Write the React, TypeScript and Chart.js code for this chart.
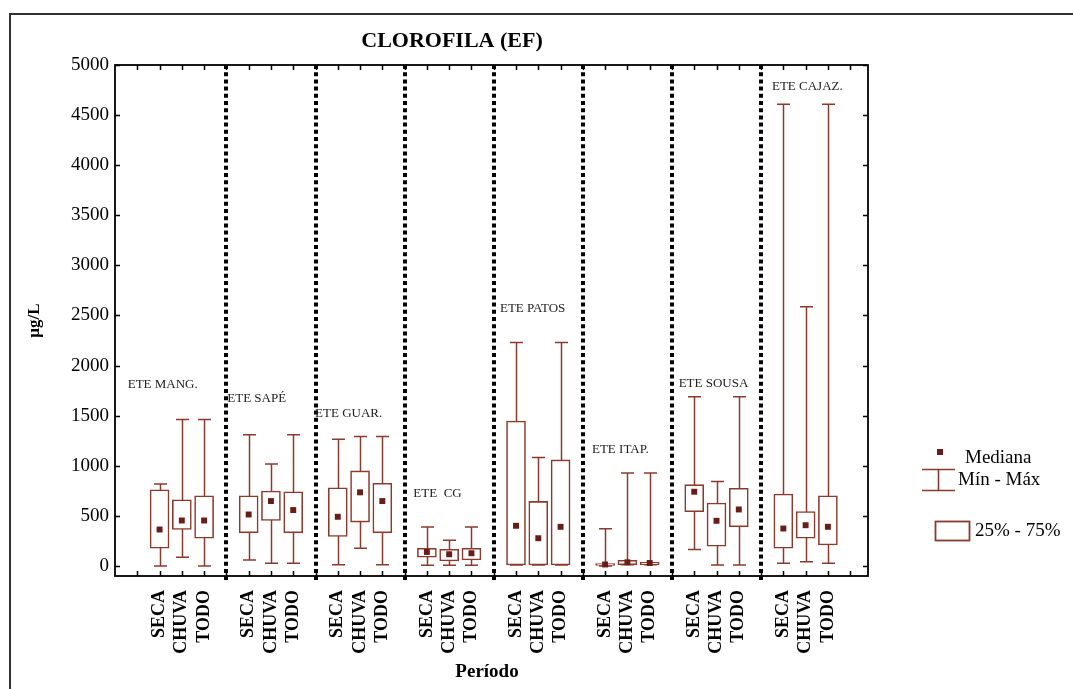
import React, { useEffect, useRef } from 'react';
import { Chart, registerables } from 'chart.js';

Chart.register(...registerables);

// Stations (groups) and sampling periods
const stations = ['ETE MANG.', 'ETE SAPÉ', 'ETE GUAR.', 'ETE  CG', 'ETE PATOS', 'ETE ITAP.', 'ETE SOUSA', 'ETE CAJAZ.'];
const periods = ['SECA', 'CHUVA', 'TODO'];

// Box statistics, station by station, in the order SECA, CHUVA, TODO (µg/L)
const minValues = [0, 87, 0, 60, 27, 27, 13, 177, 13, 7, 7, 7, 10, 10, 10, 0, 13, 13, 164, 10, 10, 27, 43, 27];
const q1Values = [177, 364, 277, 331, 454, 331, 294, 438, 331, 87, 50, 60, 10, 10, 10, 5, 13, 13, 541, 197, 391, 177, 277, 210];
const medianValues = [364, 454, 454, 514, 648, 558, 491, 735, 648, 140, 117, 127, 401, 277, 391, 15, 37, 30, 741, 451, 564, 374, 407, 391];
const q3Values = [761, 661, 701, 701, 748, 741, 781, 949, 825, 177, 167, 177, 1446, 644, 1059, 25, 57, 40, 812, 628, 775, 718, 544, 701];
const maxValues = [818, 1463, 1463, 1309, 1019, 1309, 1266, 1293, 1293, 388, 257, 388, 2231, 1082, 2231, 371, 929, 929, 1690, 842, 1690, 4609, 2588, 4609];

// Y axis tick labels
const yTicks = [0, 500, 1000, 1500, 2000, 2500, 3000, 3500, 4000, 4500, 5000];

// Where each station name is written: slot on the x axis and value on the y axis
const stationLabelSlot = [-0.43, 4.04, 7.98, 12.39, 16.28, 20.41, 24.3, 28.49];
const stationLabelValue = [1814, 1673, 1523, 721, 2565, 1162, 1824, 4780];

const BOX_COLOR = '#8b3b2d';
const MEDIAN_COLOR = '#6a1d18';
const SERIF = '"Liberation Serif", "Times New Roman", Times, serif';

// each station takes four slots: SECA, CHUVA, TODO and a separator
const slotOf = (i: number) => 1 + 4 * Math.floor(i / 3) + (i % 3);
const slotTicks: number[] = [];
for (let s = -1; s <= 33; s++) slotTicks.push(s);
const slotLabel = (v: number) => {
  const r = ((v - 1) % 4 + 4) % 4;
  if (v < 1 || v > 31 || r === 3) return '';
  return periods[r];
};

const decorations = {
  id: 'decorations',
  beforeDatasetsDraw(chart: any) {
    const { ctx, chartArea: a, scales } = chart;
    const x = scales.x;
    const y = scales.y;
    ctx.save();
    // dotted separators between stations
    ctx.strokeStyle = '#000';
    ctx.lineWidth = 4;
    ctx.setLineDash([4, 3.2]);
    for (let g = 1; g < stations.length; g++) {
      const px = Math.round(x.getPixelForValue(4 * g));
      ctx.beginPath();
      ctx.moveTo(px, a.top);
      ctx.lineTo(px, a.bottom + 4);
      ctx.stroke();
    }
    ctx.setLineDash([]);
    // min–max whiskers
    ctx.strokeStyle = BOX_COLOR;
    ctx.lineWidth = 1.5;
    for (let i = 0; i < medianValues.length; i++) {
      const px = Math.round(x.getPixelForValue(slotOf(i))) + 0.5;
      const top = y.getPixelForValue(maxValues[i]);
      const bot = y.getPixelForValue(minValues[i]);
      ctx.beginPath();
      ctx.moveTo(px, top);
      ctx.lineTo(px, bot);
      ctx.moveTo(px - 6.5, top);
      ctx.lineTo(px + 6.5, top);
      ctx.moveTo(px - 6.5, bot);
      ctx.lineTo(px + 6.5, bot);
      ctx.stroke();
    }
    ctx.restore();
  },
  afterDraw(chart: any) {
    const { ctx, chartArea: a, scales } = chart;
    const x = scales.x;
    const y = scales.y;
    ctx.save();

    // plot frame
    ctx.strokeStyle = '#000';
    ctx.lineWidth = 1.8;
    ctx.strokeRect(a.left, a.top, a.right - a.left, a.bottom - a.top);

    // inward tick marks
    ctx.lineWidth = 1.5;
    ctx.beginPath();
    for (const v of yTicks) {
      const py = Math.round(y.getPixelForValue(v)) + 0.5;
      ctx.moveTo(a.left, py);
      ctx.lineTo(a.left + 5, py);
      ctx.moveTo(a.right - 5, py);
      ctx.lineTo(a.right, py);
    }
    for (const s of slotTicks) {
      const px = Math.round(x.getPixelForValue(s)) + 0.5;
      if (px <= a.left + 1 || px >= a.right - 1) continue;
      ctx.moveTo(px, a.top);
      ctx.lineTo(px, a.top + 5);
      ctx.moveTo(px, a.bottom - 5);
      ctx.lineTo(px, a.bottom);
    }
    ctx.stroke();

    // page frame
    ctx.strokeStyle = '#333';
    ctx.lineWidth = 2;
    ctx.beginPath();
    ctx.moveTo(10, 689);
    ctx.lineTo(10, 14);
    ctx.lineTo(1073, 14);
    ctx.stroke();

    // station names
    ctx.fillStyle = '#222';
    ctx.font = `13px ${SERIF}`;
    ctx.textAlign = 'left';
    ctx.textBaseline = 'middle';
    stations.forEach((name, g) => {
      ctx.fillText(name, x.getPixelForValue(stationLabelSlot[g]), y.getPixelForValue(stationLabelValue[g]));
    });

    // title and axis titles
    ctx.fillStyle = '#000';
    ctx.textAlign = 'center';
    ctx.font = `bold 22px ${SERIF}`;
    ctx.fillText('CLOROFILA (EF)', 452, 41);
    ctx.font = `bold 19px ${SERIF}`;
    ctx.fillText('Período', 487, 672);
    ctx.font = `bold 17px ${SERIF}`;
    ctx.save();
    ctx.translate(35, (a.top + a.bottom) / 2);
    ctx.rotate(-Math.PI / 2);
    ctx.fillText('µg/L', 0, 0);
    ctx.restore();

    // legend
    ctx.fillStyle = MEDIAN_COLOR;
    ctx.fillRect(937, 449, 6, 6);
    ctx.strokeStyle = BOX_COLOR;
    ctx.lineWidth = 1.6;
    ctx.beginPath();
    ctx.moveTo(922, 469.5);
    ctx.lineTo(955, 469.5);
    ctx.moveTo(938.5, 469.5);
    ctx.lineTo(938.5, 490.5);
    ctx.moveTo(922, 490.5);
    ctx.lineTo(955, 490.5);
    ctx.stroke();
    ctx.lineWidth = 1.8;
    ctx.strokeRect(935.5, 521.5, 34, 19);
    ctx.fillStyle = '#000';
    ctx.textAlign = 'left';
    ctx.font = `19px ${SERIF}`;
    ctx.fillText('Mediana', 965, 458);
    ctx.fillText('Mín - Máx', 958, 480);
    ctx.fillText('25% - 75%', 975, 531);

    ctx.restore();
  },
};

export default function App() {
  const canvasRef = useRef<HTMLCanvasElement | null>(null);

  useEffect(() => {
    const canvas = canvasRef.current;
    if (!canvas) return;

    const boxes = medianValues.map((_, i) => ({ x: slotOf(i), y: [q1Values[i], q3Values[i]] }));
    const medians = medianValues.map((m, i) => ({ x: slotOf(i), y: m }));

    const chart = new Chart(canvas, {
      type: 'bar',
      data: {
        datasets: [
          {
            type: 'line',
            label: 'Mediana',
            data: medians as any,
            showLine: false,
            pointStyle: 'rect',
            pointRadius: 4.2,
            pointBackgroundColor: MEDIAN_COLOR,
            pointBorderWidth: 0,
            order: 0,
          } as any,
          {
            type: 'bar',
            label: '25% - 75%',
            data: boxes as any,
            backgroundColor: '#ffffff',
            borderColor: BOX_COLOR,
            borderWidth: 1.6,
            borderSkipped: false,
            barThickness: 19,
            order: 1,
          } as any,
        ],
      },
      options: {
        responsive: false,
        animation: false,
        layout: { padding: { left: 0, top: 65, right: 205, bottom: 0 } },
        plugins: {
          legend: { display: false },
          tooltip: { enabled: false },
          title: { display: false },
        },
        scales: {
          x: {
            type: 'linear',
            min: -1,
            max: 32.8,
            offset: false,
            grid: { display: false, drawTicks: false },
            border: { display: false },
            afterBuildTicks: (s: any) => {
              s.ticks = slotTicks.filter((v) => v <= 32).map((v) => ({ value: v }));
            },
            afterFit: (s: any) => {
              s.height = 689 - 576;
            },
            ticks: {
              autoSkip: false,
              minRotation: 90,
              maxRotation: 90,
              padding: 14,
              color: '#000',
              font: { family: SERIF, size: 18, weight: 'bold' },
              callback: (v: any) => slotLabel(Number(v)),
            },
          },
          y: {
            min: -100,
            max: 5000,
            grid: { display: false, drawTicks: false },
            border: { display: false },
            afterBuildTicks: (s: any) => {
              s.ticks = yTicks.map((v) => ({ value: v }));
            },
            afterFit: (s: any) => {
              s.width = 115;
            },
            ticks: {
              padding: 6,
              color: '#000',
              font: { family: SERIF, size: 19 },
              callback: (v: any) => String(v),
            },
          },
        },
      } as any,
      plugins: [decorations],
    });

    return () => chart.destroy();
  }, []);

  return (
    <div style={{ position: 'absolute', left: 0, top: 0, width: 1073, height: 689, background: '#fff' }}>
      <canvas ref={canvasRef} width={1073} height={689} />
    </div>
  );
}
